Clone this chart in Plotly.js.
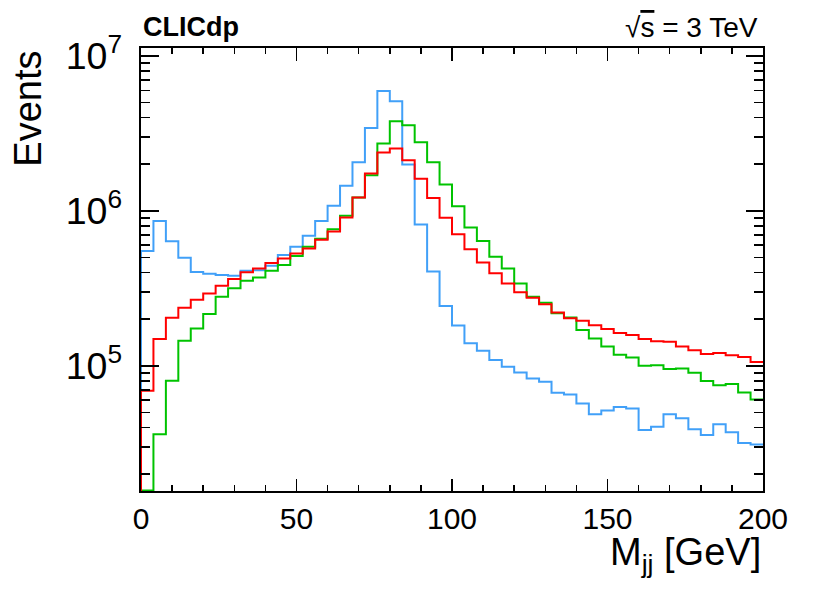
<!DOCTYPE html>
<html>
<head>
<meta charset="utf-8">
<script src="https://cdn.plot.ly/plotly-3.0.1.min.js"></script>
<style>html,body{margin:0;padding:0;background:#fff;}#chart{width:830px;height:599px;}</style>
</head>
<body>
<div id="chart"></div>
<script>
// Bin lower edges (GeV), 4 GeV bins from 0 to 200
const binWidth = 4;
const binEdges = Array.from({length: 51}, (_, i) => i * binWidth);

// Events per bin
const blueEvents = [
  5.5e5, 8.6e5, 6.37e5, 4.98e5, 4.03e5, 3.93e5, 3.85e5, 3.81e5, 4.10e5, 4.14e5,
  4.42e5, 5.18e5, 5.86e5, 6.90e5, 8.6e5, 1.08e6, 1.45e6, 2.06e6, 3.43e6, 5.94e6,
  5.1e6, 1.99e6, 8.17e5, 4.06e5, 2.43e5, 1.82e5, 1.40e5, 1.25e5, 1.09e5, 9.86e4,
  9.06e4, 8.29e4, 7.89e4, 6.70e4, 6.54e4, 5.72e4, 4.86e4, 5.15e4, 5.42e4, 5.31e4,
  3.85e4, 4.04e4, 4.86e4, 4.58e4, 3.89e4, 3.57e4, 4.19e4, 3.73e4, 3.18e4, 3.11e4
];
const redEvents = [
  6.9e4, 1.49e5, 2.04e5, 2.37e5, 2.67e5, 2.93e5, 3.28e5, 3.63e5, 4.01e5, 4.25e5,
  4.60e5, 4.93e5, 5.31e5, 5.72e5, 6.5e5, 7.35e5, 9.07e5, 1.22e6, 1.74e6, 2.38e6,
  2.53e6, 2.12e6, 1.61e6, 1.21e6, 9.01e5, 7.05e5, 5.66e5, 4.64e5, 3.96e5, 3.40e5,
  2.98e5, 2.75e5, 2.50e5, 2.21e5, 2.03e5, 1.95e5, 1.83e5, 1.73e5, 1.63e5, 1.58e5,
  1.49e5, 1.44e5, 1.43e5, 1.33e5, 1.26e5, 1.19e5, 1.21e5, 1.17e5, 1.14e5, 1.06e5
];
const greenEvents = [
  1.57e4, 3.61e4, 8.0e4, 1.45e5, 1.74e5, 2.16e5, 2.79e5, 3.16e5, 3.54e5, 3.72e5,
  4.10e5, 4.47e5, 5.11e5, 5.86e5, 6.6e5, 7.62e5, 9.29e5, 1.22e6, 1.70e6, 2.72e6,
  3.79e6, 3.57e6, 2.77e6, 2.06e6, 1.48e6, 1.07e6, 7.81e5, 6.38e5, 5.05e5, 4.25e5,
  3.40e5, 2.79e5, 2.55e5, 2.18e5, 2.05e5, 1.70e5, 1.50e5, 1.33e5, 1.18e5, 1.13e5,
  1.00e5, 1.01e5, 9.52e4, 9.62e4, 9.01e4, 7.97e4, 7.50e4, 7.62e4, 6.73e4, 6.07e4
];

const xTickVals = [0, 50, 100, 150, 200];
const xTickText = ['0', '50', '100', '150', '200'];

// styles
const yLogRange = [4.192, 7.051];
const yFloor = Math.pow(10, yLogRange[0] - 1);
const FONT = 'Liberation Sans, Arial, Helvetica, sans-serif';

function histTrace(vals, color) {
  // 'vh' steps: rise at the lower edge, then run across the bin
  return {
    type: 'scatter', mode: 'lines',
    x: binEdges,
    y: [yFloor].concat(vals),
    line: {shape: 'vh', color: color, width: 2},
    hoverinfo: 'skip', showlegend: false
  };
}

const data = [
  histTrace(blueEvents, '#41a0f8'),
  histTrace(greenEvents, '#00c300'),
  histTrace(redEvents, '#ff0000')
];

const layout = {
  width: 830, height: 599,
  margin: {l: 141, r: 67, t: 48, b: 108, pad: 0},
  paper_bgcolor: '#ffffff', plot_bgcolor: '#ffffff',
  font: {family: FONT, color: '#000', size: 30},
  showlegend: false,
  xaxis: {
    range: [0, 200], showgrid: false, zeroline: false,
    showline: true, linecolor: '#000', linewidth: 2, mirror: 'allticks',
    ticks: 'inside', ticklen: 12.5, tickwidth: 1.5, tickcolor: '#000',
    tickvals: xTickVals, ticktext: xTickText,
    tickfont: {family: FONT, size: 30, color: '#000'},
    ticklabelstandoff: 0,
    minor: {ticks: 'inside', dtick: 10, ticklen: 6.3, tickwidth: 1.5, tickcolor: '#000', showgrid: false}
  },
  yaxis: {
    type: 'log', range: yLogRange, showgrid: false, zeroline: false,
    showline: true, linecolor: '#000', linewidth: 2, mirror: 'allticks',
    ticks: 'inside', ticklen: 17.5, tickwidth: 1.5, tickcolor: '#000',
    dtick: 1, exponentformat: 'power', showexponent: 'all',
    tickfont: {family: FONT, size: 30, color: '#000'},
    ticklabelstandoff: 11,
    minor: {ticks: 'inside', dtick: 'D1', ticklen: 8.8, tickwidth: 1.5, tickcolor: '#000', showgrid: false}
  },
  annotations: [
    {text: '<b>CLICdp</b>', xref: 'paper', yref: 'paper', x: 0, y: 1.008,
     xanchor: 'left', yanchor: 'bottom', showarrow: false,
     font: {family: FONT, size: 27, color: '#000'}},
    {text: '√<span style="text-decoration:overline">s</span> = 3 TeV', xref: 'paper', yref: 'paper', x: 0.995, y: 1.006,
     xanchor: 'right', yanchor: 'bottom', showarrow: false,
     font: {family: FONT, size: 28, color: '#000'}},
    {text: 'Events', xref: 'paper', yref: 'paper', x: -0.181, y: 0.864,
     xanchor: 'center', yanchor: 'middle', textangle: -90, showarrow: false,
     font: {family: FONT, size: 38, color: '#000'}},
    {text: 'M<sub>jj</sub> [GeV]', xref: 'paper', yref: 'paper', x: 1.0, y: -0.085,
     xanchor: 'right', yanchor: 'top', showarrow: false,
     font: {family: FONT, size: 38, color: '#000'}}
  ]
};

Plotly.newPlot('chart', data, layout, {displayModeBar: false, staticPlot: true});
</script>
</body>
</html>
